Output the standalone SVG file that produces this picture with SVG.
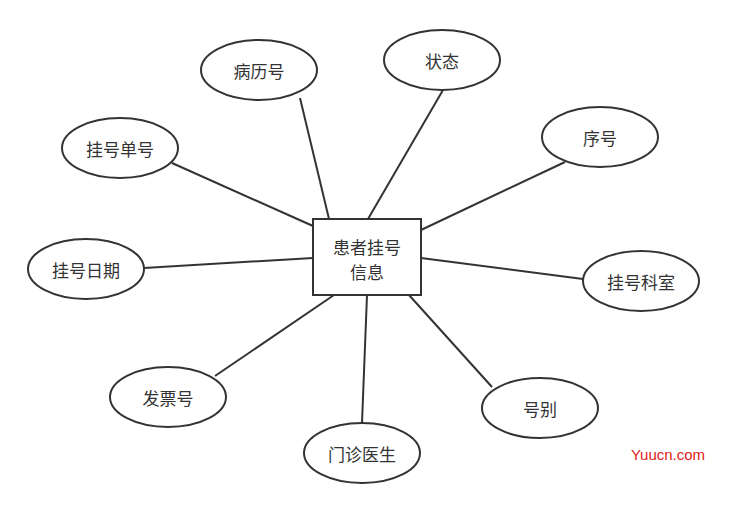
<svg xmlns="http://www.w3.org/2000/svg" width="729" height="510" viewBox="0 0 729 510">
<style>
.n ellipse,.n rect{fill:#fff;stroke:#333;stroke-width:2}
.n text{font-family:"Noto Sans CJK SC",sans-serif;font-size:17px;fill:#333;text-anchor:middle;dominant-baseline:central}
#edges line{stroke:#333;stroke-width:2}
</style>
<rect width="729" height="510" fill="#fff"/>
<g id="edges">
<line x1="300" y1="98" x2="329" y2="219"/>
<line x1="443" y1="90" x2="368" y2="219"/>
<line x1="565" y1="162" x2="421" y2="230"/>
<line x1="172" y1="163" x2="313" y2="226"/>
<line x1="144" y1="268" x2="313" y2="258"/>
<line x1="583" y1="279" x2="421" y2="258"/>
<line x1="215" y1="376" x2="334" y2="295"/>
<line x1="492" y1="387" x2="409" y2="295"/>
<line x1="362" y1="423" x2="367" y2="295"/>
</g>
<g id="center" class="n"><rect x="313" y="219" width="108" height="76"/><text x="367" y="246">患者挂号</text><text x="367" y="271">信息</text></g>
<g id="n1" class="n"><ellipse cx="259" cy="70" rx="58" ry="30"/><text x="259" y="70">病历号</text></g>
<g id="n2" class="n"><ellipse cx="442" cy="60" rx="58" ry="30"/><text x="442" y="60">状态</text></g>
<g id="n3" class="n"><ellipse cx="600" cy="137" rx="58" ry="30"/><text x="600" y="137">序号</text></g>
<g id="n4" class="n"><ellipse cx="120" cy="148" rx="58" ry="30"/><text x="120" y="148">挂号单号</text></g>
<g id="n5" class="n"><ellipse cx="86" cy="269" rx="58" ry="30"/><text x="86" y="269">挂号日期</text></g>
<g id="n6" class="n"><ellipse cx="641" cy="281" rx="58" ry="30"/><text x="641" y="281">挂号科室</text></g>
<g id="n7" class="n"><ellipse cx="168" cy="397" rx="58" ry="30"/><text x="168" y="397">发票号</text></g>
<g id="n8" class="n"><ellipse cx="540" cy="408" rx="58" ry="30"/><text x="540" y="408">号别</text></g>
<g id="n9" class="n"><ellipse cx="362" cy="453" rx="58" ry="30"/><text x="362" y="453">门诊医生</text></g>
<text x="668" y="460" font-family="Liberation Sans,sans-serif" font-size="15" fill="#e02020" text-anchor="middle">Yuucn.com</text>
</svg>
